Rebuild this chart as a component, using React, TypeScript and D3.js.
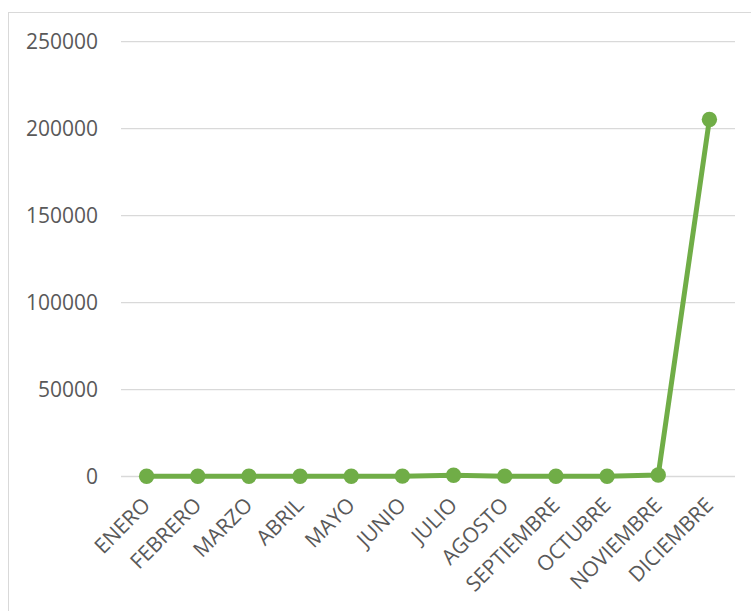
import React from "react";
import * as d3 from "d3";

const months = ["ENERO","FEBRERO","MARZO","ABRIL","MAYO","JUNIO","JULIO","AGOSTO","SEPTIEMBRE","OCTUBRE","NOVIEMBRE","DICIEMBRE"];
const values = [150, 120, 150, 150, 120, 200, 700, 200, 150, 150, 900, 205300];
const yTicks = [0, 50000, 100000, 150000, 200000, 250000];

const W = 751, H = 611;
const left = 121, right = 735, top = 41.7, bottom = 476.5;
const green = "#70AD47";
const font = "'Open Sans', sans-serif";

export default function App() {
  const x = d3.scaleBand<string>().domain(months).range([left, right]);
  const y = d3.scaleLinear().domain([0, 250000]).range([bottom, top]);
  const cx = (m: string) => (x(m) as number) + x.bandwidth() / 2;
  const line = d3.line<number>().x((_, i) => cx(months[i])).y((d) => y(d));
  return (
    <svg width={W} height={H} style={{ position: "absolute", left: 0, top: 0, background: "#fff" }}>
      <rect x={8.5} y={12.5} width={W + 20} height={H + 20} fill="#fff" stroke="#D9D9D9" strokeWidth={1} />
      {yTicks.map((t) => (
        <g key={t}>
          <line x1={left} x2={right} y1={y(t)} y2={y(t)} stroke="#D9D9D9" strokeWidth={1.3} />
          <text x={98} y={y(t)} dy="0.36em" textAnchor="end" fontFamily={font} fontSize={21} fill="#595959">{t}</text>
        </g>
      ))}
      {months.map((m) => (
        <text key={m} transform={`translate(${cx(m) + 5},${bottom + 30}) rotate(-45)`} textAnchor="end" fontFamily={font} fontSize={21} fill="#595959">{m}</text>
      ))}
      <path d={line(values) || ""} fill="none" stroke={green} strokeWidth={5} strokeLinejoin="round" />
      {values.map((v, i) => (
        <circle key={i} cx={cx(months[i])} cy={y(v)} r={7.7} fill={green} />
      ))}
    </svg>
  );
}
